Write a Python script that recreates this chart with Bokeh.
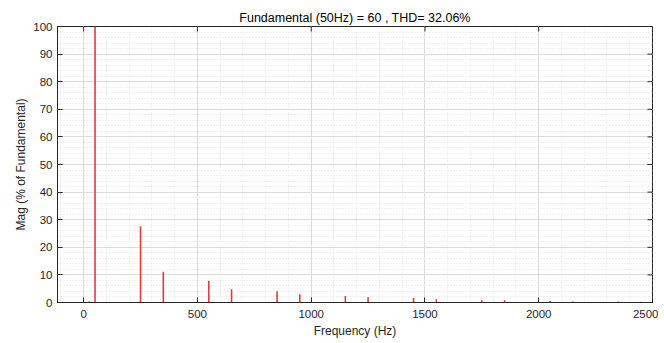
import math
from bokeh.plotting import figure
from bokeh.models import SingleIntervalTicker, Range1d, ColumnDataSource
from bokeh.embed import file_html
from bokeh.resources import INLINE

# Harmonic spectrum (% of fundamental)
freq_hz = [25, 50, 125, 250, 350, 550, 650, 850, 950, 1150, 1250, 1450, 1550,
           1750, 1850, 2050, 2150, 2350, 2450]
mag_pct = [0.4, 100, 0.2, 27.6, 11.1, 7.9, 4.8, 4.1, 3.0, 2.4, 1.9, 1.6, 1.2,
           0.8, 0.8, 0.5, 0.4, 0.4, 0.3]

x_ticks = [0, 500, 1000, 1500, 2000, 2500]
y_ticks = [0, 10, 20, 30, 40, 50, 60, 70, 80, 90, 100]

title_text = "Fundamental (50Hz) = 60 , THD= 32.06%"
x_label = "Frequency (Hz)"
y_label = "Mag (% of Fundamental)"

FONT = "Liberation Sans"
AX = "#262626"
X_MIN, X_MAX = -115, 2500
Y_MIN, Y_MAX = 0, 100

p = figure(frame_width=595, frame_height=276, output_backend="svg",
           toolbar_location=None, x_range=Range1d(X_MIN, X_MAX),
           y_range=Range1d(Y_MIN, Y_MAX), min_border_left=57, min_border_right=6,
           min_border_top=26, min_border_bottom=35, background_fill_color="white",
           border_fill_color="white", outline_line_color=AX, outline_line_width=1)

p.title.text = title_text
p.title.align = "center"
p.title.text_font = FONT
p.title.text_font_size = "12.5px"
p.title.text_font_style = "normal"
p.title.text_color = "#000000"
p.title.standoff = 3
p.title.offset = 0

src = ColumnDataSource(dict(x=freq_hz, top=mag_pct))
p.vbar(x="x", top="top", width=7, bottom=0, source=src,
       fill_color="#e23b3b", line_color=None)

xt = SingleIntervalTicker(interval=500, num_minor_ticks=5)
yt = SingleIntervalTicker(interval=10, num_minor_ticks=5)

for ax, t in ((p.xaxis[0], xt), (p.yaxis[0], yt)):
    ax.ticker = t
    ax.major_tick_in = 5
    ax.major_tick_out = 0
    ax.minor_tick_in = 0
    ax.minor_tick_out = 0
    ax.axis_line_color = AX
    ax.major_tick_line_color = AX
    ax.major_label_text_font = FONT
    ax.major_label_text_font_size = "11.5px"
    ax.major_label_text_color = AX
    ax.axis_label_text_font = FONT
    ax.axis_label_text_font_size = "12px"
    ax.axis_label_text_font_style = "normal"
    ax.axis_label_text_color = AX

p.xaxis[0].axis_label = x_label
p.yaxis[0].axis_label = y_label
p.xaxis[0].major_label_standoff = 7
p.xaxis[0].axis_label_standoff = 3
p.yaxis[0].major_label_standoff = 5
p.yaxis[0].axis_label_standoff = 2

# mirrored tick marks on the top and right edges of the box
p.ray(x=x_ticks, y=[Y_MAX] * len(x_ticks), length=5, length_units="screen",
      angle=-math.pi / 2, line_color=AX, line_width=1)
p.ray(x=[X_MAX] * len(y_ticks), y=y_ticks, length=5, length_units="screen",
      angle=math.pi, line_color=AX, line_width=1)

for g in (p.xgrid[0], p.ygrid[0]):
    g.grid_line_color = "#dcdcdc"
    g.grid_line_width = 1
    g.minor_grid_line_color = "#e2e2e2"
    g.minor_grid_line_dash = "1 2"
    g.minor_grid_line_width = 1

open("out.html", "w").write(file_html(p, INLINE))
